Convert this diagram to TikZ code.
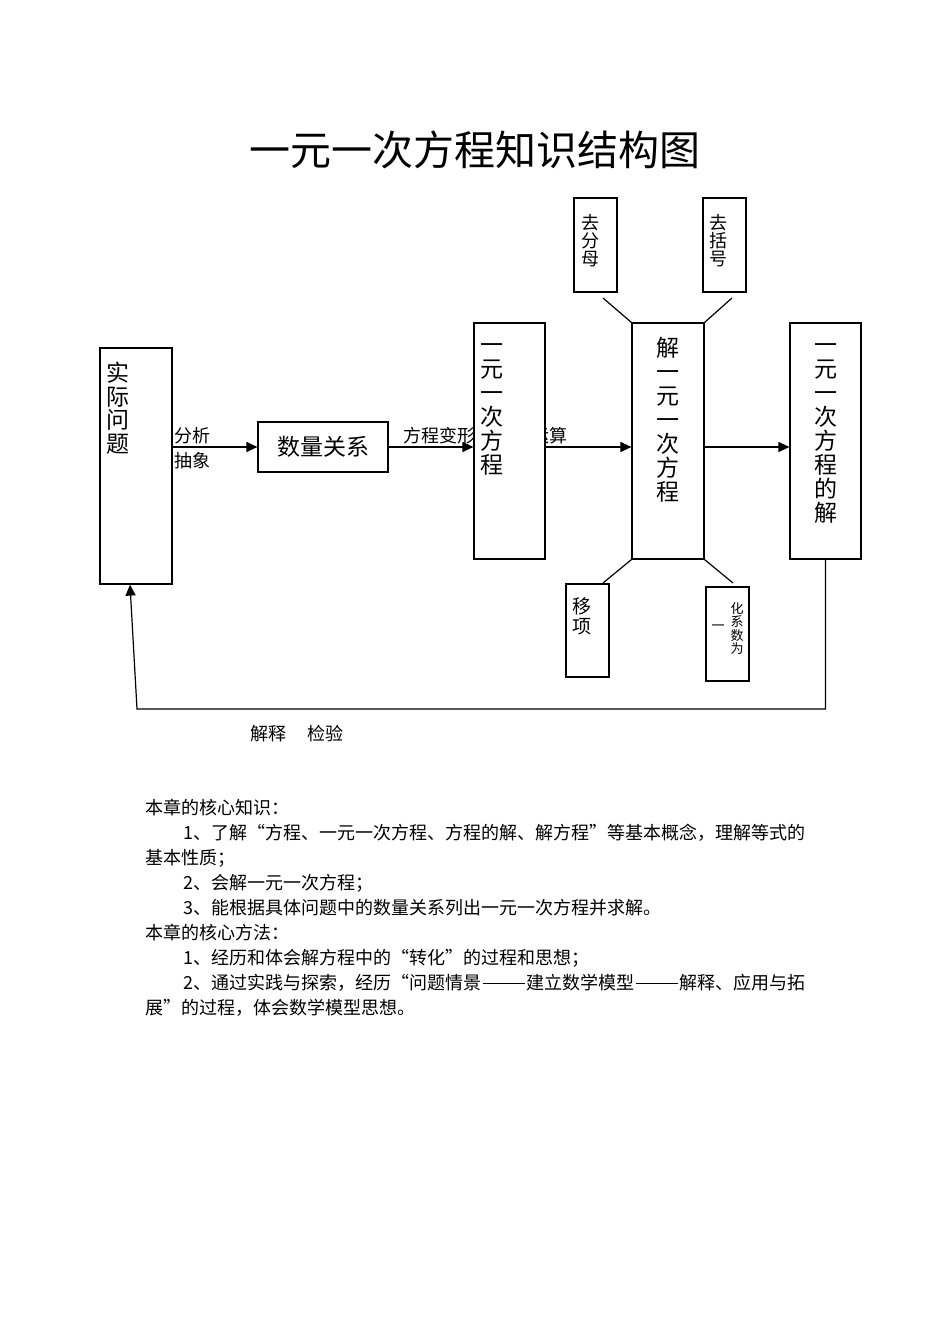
\documentclass[tikz,border=0pt]{standalone}
\usepackage{fontspec}
\setmainfont{Noto Sans CJK SC}
\usetikzlibrary{arrows.meta}
\newcommand\Vph{\vphantom{国}}
\newcommand\ddash{\hspace{0.1em}\rule[0.34em]{2.3em}{0.045em}\hspace{0.1em}}
\begin{document}
\begin{tikzpicture}[x=0.5pt,y=-0.5pt,
  box/.style={draw, fill=white, line width=0.6pt, inner sep=0pt},
  conn/.style={line width=0.6pt},
  arr/.style={line width=0.6pt, -{Triangle[length=5.5pt,width=5pt]}},
  vtxt/.style={anchor=north, align=center, inner sep=0pt},
  bigv/.style={vtxt, font=\fontsize{11.5}{12}\selectfont},
  smallv/.style={vtxt, font=\fontsize{9}{9}\selectfont},
  lbl/.style={anchor=west, inner sep=0pt, font=\fontsize{9}{9}\selectfont},
  body/.style={anchor=west, inner sep=0pt, font=\fontsize{9}{9}\selectfont}]
\useasboundingbox (0,0) rectangle (950,1344);

% title
\node[inner sep=0pt, font=\fontsize{20.5}{20.5}\selectfont] (title) at (475,150) {一元一次方程知识结构图};

% labels that lie under boxes
\node[lbl] (lab2) at (403,436) {方程变形\hspace{28pt}运算};
\node[lbl] (lab1a) at (174,436) {分析};
\node[lbl] (lab1b) at (174,461) {抽象};

% boxes
\node[box, minimum width=36pt, minimum height=118pt] (sj) at (136,466) {};
\node[box, minimum width=65pt, minimum height=25pt, font=\fontsize{11.5}{11.5}\selectfont] (sl) at (323,447) {数量关系};
\node[box, minimum width=35.5pt, minimum height=118pt] (b1) at (509.5,441) {};
\node[box, minimum width=36pt, minimum height=118pt] (b2) at (668,441) {};
\node[box, minimum width=35.5pt, minimum height=118pt] (b3) at (825.5,441) {};
\node[box, minimum width=21.5pt, minimum height=47pt] (qf) at (595.5,245) {};
\node[box, minimum width=21.5pt, minimum height=47pt] (qk) at (724.5,245) {};
\node[box, minimum width=21.5pt, minimum height=46.5pt] (yx) at (587.5,630.5) {};
\node[box, minimum width=21.5pt, minimum height=47pt] (hx) at (727.5,634) {};

% box texts
\node[vtxt, font=\fontsize{11.5}{11.7}\selectfont] (sjt) at (118,362) {\Vph 实\\际\\问\\题};
\node[bigv] (b1t) at (492,335) {\Vph 一\\元\\一\\次\\方\\程};
\node[bigv] (b2t) at (668,337) {\Vph 解\\一\\元\\一\\次\\方\\程};
\node[bigv] (b3t) at (826,335) {\Vph 一\\元\\一\\次\\方\\程\\的\\解};
\node[smallv] (qft) at (590,214) {\Vph 去\\分\\母};
\node[smallv] (qkt) at (718,214) {\Vph 去\\括\\号};
\node[vtxt, font=\fontsize{9.5}{10}\selectfont] (yxt) at (582,597) {\Vph 移\\项};
\node[vtxt, font=\fontsize{6.5}{6.7}\selectfont] (hxt) at (737,602) {\Vph 化\\系\\数\\为};
\node[inner sep=0pt, font=\fontsize{6.5}{6.5}\selectfont] (hxt2) at (718,628) {一};

% arrows
\draw[arr] (sj.east |- sl.west) -- (sl.west);
\draw[arr] (sl.east) -- (sl.east -| b1.west);
\draw[arr] (b1.east |- sl.east) -- (b2.west |- sl.east);
\draw[arr] (b2.east |- sl.east) -- (b3.west |- sl.east);

% diagonal connectors
\coordinate (d1) at (603,298);
\coordinate (d2) at (732,298);
\coordinate (d3) at (603,583);
\coordinate (d4) at (733,583);
\draw[conn] (d1) -- (b2.north west);
\draw[conn] (d2) -- (b2.north east);
\draw[conn] (b2.south west) -- (d3);
\draw[conn] (b2.south east) -- (d4);

% feedback
\coordinate (fb) at (137,709);
\draw[arr] (b3.south) |- (fb) -- ([xshift=-3pt]sj.south);
\node[lbl] (lab3) at (250,734) {解释\hspace{10.5pt}检验};

% body text
\node[body] (t1) at (145,808) {本章的核心知识：};
\node[body] (t2) at (183,833) {1、了解“方程、一元一次方程、方程的解、解方程”等基本概念，理解等式的};
\node[body] (t3) at (145,858) {基本性质；};
\node[body] (t4) at (183,883) {2、会解一元一次方程；};
\node[body] (t5) at (183,908) {3、能根据具体问题中的数量关系列出一元一次方程并求解。};
\node[body] (t6) at (145,933) {本章的核心方法：};
\node[body] (t7) at (183,958) {1、经历和体会解方程中的“转化”的过程和思想；};
\node[body] (t8) at (183,983) {2、通过实践与探索，经历“问题情景\ddash 建立数学模型\ddash 解释、应用与拓};
\node[body] (t9) at (145,1008) {展”的过程，体会数学模型思想。};
\end{tikzpicture}
\end{document}
